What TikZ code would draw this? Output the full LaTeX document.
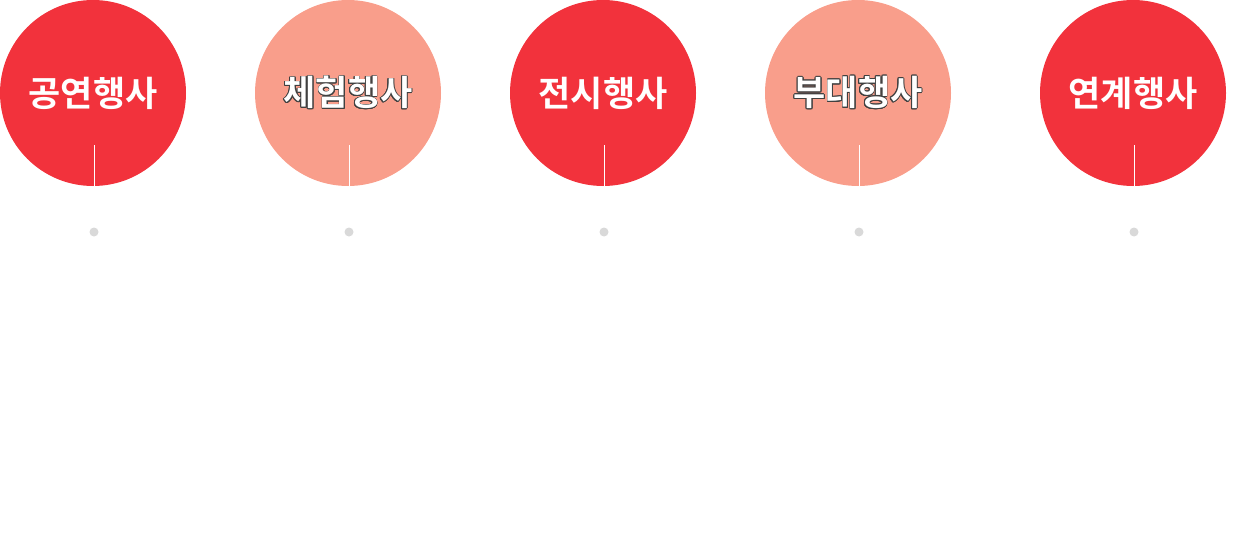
\documentclass[tikz,border=0pt]{standalone}
\usepackage{fontspec}
\newfontfamily\kofont{Noto Sans CJK KR Bold}
\usepackage[copies]{contour}
\contourlength{0.8pt}
\definecolor{eventred}{HTML}{F2323C}
\definecolor{eventpink}{HTML}{F99E8B}
\definecolor{dotgray}{HTML}{D9D9D9}
\tikzset{
  bubble/.style={circle, minimum size=186pt, inner sep=0pt, font=\kofont\fontsize{35}{35}\selectfont, text=white},
  tick/.style={draw=white, line width=1pt},
  pin/.style={circle, fill=dotgray, minimum size=9pt, inner sep=0pt}
}
\begin{document}
\begin{tikzpicture}[x=1pt,y=-1pt]
  \useasboundingbox (0,0) rectangle (1248,535);
  \begin{scope}[shift={(93,0)}]
    \node[bubble, fill=eventred] (gongyeon) at (0,93) {공연행사};
    \coordinate (gongyeontop) at (1,145);
    \draw[tick] (gongyeontop) -- (gongyeontop |- gongyeon.south);
    \node[pin] (gongyeondot) at (1,232) {};
  \end{scope}
  \begin{scope}[shift={(348,0)}]
    \node[bubble, fill=eventpink] (cheheom) at (0,93) {\contour{darkgray}{체험행사}};
    \coordinate (cheheomtop) at (1,145);
    \draw[tick] (cheheomtop) -- (cheheomtop |- cheheom.south);
    \node[pin] (cheheomdot) at (1,232) {};
  \end{scope}
  \begin{scope}[shift={(603,0)}]
    \node[bubble, fill=eventred] (jeonsi) at (0,93) {전시행사};
    \coordinate (jeonsitop) at (1,145);
    \draw[tick] (jeonsitop) -- (jeonsitop |- jeonsi.south);
    \node[pin] (jeonsidot) at (1,232) {};
  \end{scope}
  \begin{scope}[shift={(858,0)}]
    \node[bubble, fill=eventpink] (budae) at (0,93) {\contour{darkgray}{부대행사}};
    \coordinate (budaetop) at (1,145);
    \draw[tick] (budaetop) -- (budaetop |- budae.south);
    \node[pin] (budaedot) at (1,232) {};
  \end{scope}
  \begin{scope}[shift={(1133,0)}]
    \node[bubble, fill=eventred] (yeongye) at (0,93) {연계행사};
    \coordinate (yeongyetop) at (1,145);
    \draw[tick] (yeongyetop) -- (yeongyetop |- yeongye.south);
    \node[pin] (yeongyedot) at (1,232) {};
  \end{scope}
\end{tikzpicture}
\end{document}
